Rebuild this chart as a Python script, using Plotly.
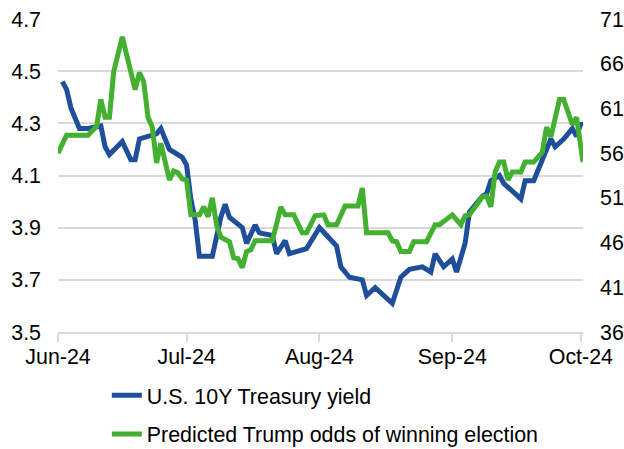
import plotly.graph_objects as go

# ---- data ----
yield_dates = ["2024-06-02", "2024-06-03", "2024-06-04", "2024-06-06", "2024-06-08", "2024-06-11",
               "2024-06-12", "2024-06-13", "2024-06-16", "2024-06-18", "2024-06-19", "2024-06-20",
               "2024-06-24", "2024-06-25", "2024-06-27", "2024-06-30", "2024-07-01", "2024-07-02",
               "2024-07-03", "2024-07-04", "2024-07-07", "2024-07-09", "2024-07-10", "2024-07-11",
               "2024-07-14", "2024-07-15", "2024-07-17", "2024-07-18", "2024-07-21", "2024-07-22",
               "2024-07-24", "2024-07-25", "2024-07-29", "2024-07-30", "2024-08-01", "2024-08-05",
               "2024-08-06", "2024-08-08", "2024-08-11", "2024-08-12", "2024-08-14", "2024-08-18",
               "2024-08-20", "2024-08-22", "2024-08-25", "2024-08-27", "2024-08-28", "2024-08-30",
               "2024-09-01", "2024-09-02", "2024-09-04", "2024-09-05", "2024-09-08", "2024-09-09",
               "2024-09-10", "2024-09-12", "2024-09-13", "2024-09-17", "2024-09-18", "2024-09-20",
               "2024-09-23", "2024-09-24", "2024-09-25", "2024-09-27", "2024-09-29", "2024-09-30",
               "2024-10-01 00:00", "2024-10-01 12:00"]
yield_values = [4.46, 4.43, 4.36, 4.28, 4.28, 4.29,
                4.21, 4.18, 4.23, 4.16, 4.16, 4.24,
                4.26, 4.28, 4.20, 4.17, 4.14, 4.01,
                3.93, 3.79, 3.79, 3.94, 3.99, 3.94,
                3.90, 3.84, 3.91, 3.88, 3.87, 3.80,
                3.85, 3.80, 3.82, 3.85, 3.90, 3.83,
                3.75, 3.71, 3.70, 3.64, 3.67, 3.61,
                3.71, 3.74, 3.75, 3.73, 3.80, 3.75,
                3.78, 3.73, 3.84, 3.96, 4.02, 4.03,
                4.08, 4.10, 4.07, 4.01, 4.08, 4.08,
                4.21, 4.24, 4.21, 4.24, 4.28, 4.25,
                4.30, 4.29]

odds_dates = ["2024-06-01", "2024-06-03", "2024-06-08", "2024-06-10", "2024-06-11", "2024-06-12",
              "2024-06-13", "2024-06-14", "2024-06-16", "2024-06-19", "2024-06-20", "2024-06-21",
              "2024-06-22", "2024-06-23", "2024-06-24", "2024-06-25", "2024-06-27", "2024-06-28",
              "2024-06-29", "2024-06-30", "2024-07-01", "2024-07-02", "2024-07-04", "2024-07-05",
              "2024-07-06", "2024-07-07", "2024-07-08", "2024-07-09", "2024-07-11", "2024-07-12",
              "2024-07-13", "2024-07-14", "2024-07-15", "2024-07-16", "2024-07-17", "2024-07-21",
              "2024-07-23", "2024-07-24", "2024-07-26", "2024-07-28", "2024-07-29", "2024-07-31",
              "2024-08-02", "2024-08-03", "2024-08-05", "2024-08-07", "2024-08-10", "2024-08-11",
              "2024-08-12", "2024-08-17", "2024-08-18", "2024-08-19", "2024-08-20", "2024-08-22",
              "2024-08-23", "2024-08-26", "2024-08-28", "2024-08-29", "2024-09-01", "2024-09-03",
              "2024-09-04", "2024-09-05", "2024-09-08", "2024-09-09", "2024-09-10", "2024-09-11",
              "2024-09-12", "2024-09-13", "2024-09-14", "2024-09-15", "2024-09-17", "2024-09-18",
              "2024-09-20", "2024-09-22", "2024-09-23", "2024-09-24", "2024-09-26", "2024-09-27",
              "2024-09-29", "2024-09-30", "2024-10-01 12:00"]
odds_values = [56.0, 58.0, 58.0, 59.0, 62.0, 60.0,
               60.0, 65.1, 69.0, 63.1, 65.0, 64.0,
               60.0, 58.9, 54.9, 57.1, 53.0, 54.0,
               53.8, 53.1, 53.0, 49.1, 49.1, 50.0,
               48.9, 51.0, 48.0, 46.6, 46.1, 44.3,
               44.2, 43.2, 45.0, 45.2, 46.2, 46.2,
               50.0, 49.1, 49.1, 47.1, 47.1, 49.0,
               49.1, 48.0, 48.0, 50.1, 50.1, 52.1,
               47.1, 47.1, 46.2, 46.1, 45.0, 45.0,
               46.1, 46.1, 48.0, 48.0, 49.1, 48.0,
               49.0, 49.1, 51.1, 51.2, 50.0, 53.9,
               55.0, 55.0, 53.0, 53.9, 53.9, 55.0,
               55.0, 56.1, 58.9, 57.8, 62.0, 62.0,
               59.2, 60.0, 55.0]

series_names = ["U.S. 10Y Treasury yield", "Predicted Trump odds of winning election"]
month_ticks = ["2024-06-01", "2024-07-01", "2024-08-01", "2024-09-01", "2024-10-01"]
month_labels = ["Jun-24", "Jul-24", "Aug-24", "Sep-24", "Oct-24"]
left_ticks = [3.5, 3.7, 3.9, 4.1, 4.3, 4.5, 4.7]
right_ticks = [36, 41, 46, 51, 56, 61, 66, 71]

BLUE = "#1F4E9A"
GREEN = "#43B02F"
GRID = "#D9D9D9"
FONT = dict(family="Liberation Sans, Arial, sans-serif", size=21.4, color="#000000")

fig = go.Figure()
fig.add_trace(go.Scatter(x=yield_dates, y=yield_values, name=series_names[0], mode="lines",
                         line=dict(color=BLUE, width=5), yaxis="y", legendgroup="a"))
fig.add_trace(go.Scatter(x=odds_dates, y=odds_values, name=series_names[1], mode="lines",
                         line=dict(color=GREEN, width=5), yaxis="y2", legendgroup="b"))

fig.update_layout(
    width=624, height=449,
    margin=dict(l=58, r=41, t=19, b=117, autoexpand=False),
    paper_bgcolor="white", plot_bgcolor="white",
    font=FONT,
    xaxis=dict(type="date", range=["2024-06-01", "2024-10-01 12:00"],
               tickvals=month_ticks, ticktext=month_labels,
               showgrid=False, zeroline=False, automargin=False,
               showline=True, linecolor=GRID, linewidth=2,
               ticks="outside", ticklen=8, tickwidth=2, tickcolor=GRID,
               ticklabelstandoff=-4, ticklabeloverflow="allow", tickfont=FONT),
    yaxis=dict(range=[3.5, 4.7], tickvals=left_ticks, tickformat=".1f",
               showgrid=True, gridcolor=GRID, gridwidth=2, zeroline=False, automargin=False,
               showline=False, ticks="", ticklabelstandoff=16, ticklabeloverflow="allow",
               tickfont=FONT),
    yaxis2=dict(range=[36, 71], tickvals=right_ticks, overlaying="y", side="right",
                showgrid=False, zeroline=False, showline=False, ticks="", automargin=False,
                ticklabelstandoff=16, ticklabeloverflow="allow", tickfont=FONT),
    showlegend=True,
    legend=dict(orientation="v", x=0.093, xanchor="left", y=-0.137, yanchor="top",
                font=FONT, traceorder="grouped", tracegroupgap=8,
                bgcolor="rgba(0,0,0,0)", itemwidth=30),
)

fig.write_html("out.html", config={"displayModeBar": False},
               post_script="document.body.style.margin='0';document.body.style.overflow='hidden';")
